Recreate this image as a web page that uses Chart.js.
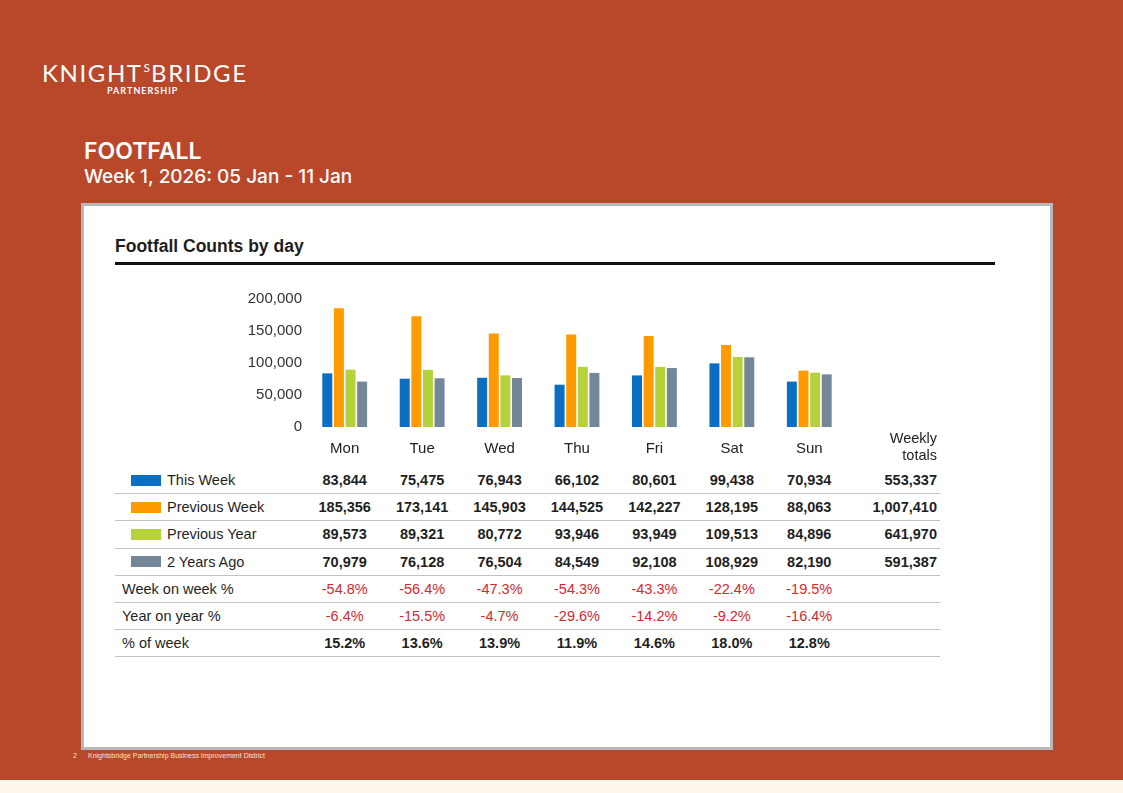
<!DOCTYPE html>
<html>
<head>
<meta charset="utf-8">
<script src="https://cdn.jsdelivr.net/npm/chart.js@4.4.1/dist/chart.umd.min.js"></script>
<style>
  html, body { margin: 0; padding: 0; }
  body { width: 1123px; height: 793px; background: #B9472A; position: relative; overflow: hidden; font-family: "Liberation Sans", Arial, sans-serif; }
  .strip { position: absolute; left: 0; top: 780px; width: 1123px; height: 13px; background: #FDF6EA; }
  .logo { position: absolute; left: 42px; top: 58px; color: #fff; font-family: Lato, sans-serif; font-size: 24px; letter-spacing: 1.6px; white-space: nowrap; }
  .logo sup { font-size: 12px; vertical-align: 10px; letter-spacing: 0; margin: 0 1px; }
  .partner { position: absolute; left: 107px; top: 85px; color: #fff; font-family: Lato, sans-serif; font-weight: 700; font-size: 9px; letter-spacing: 1px; }
  .title { position: absolute; left: 84px; top: 137px; color: #fff; font-family: Inter, sans-serif; font-weight: 600; font-size: 23px; }
  .subtitle { position: absolute; left: 84px; top: 165px; color: #fff; font-family: Inter, sans-serif; font-weight: 500; font-size: 19px; }
  .panel { position: absolute; left: 81px; top: 203px; width: 966px; height: 541px; background: #fff; border: 3px solid #B9B9B9; }
  .ctitle { position: absolute; left: 115px; top: 236px; font-weight: 700; font-size: 17.5px; color: #1d1d1d; }
  .rule { position: absolute; left: 115px; top: 262px; width: 880px; height: 2.5px; background: #111; }
  #wrap { position: absolute; left: 230px; top: 285px; width: 720px; height: 180px; }
  .totalsHead { position: absolute; left: 860px; top: 430px; width: 77px; text-align: right; font-size: 14.5px; line-height: 17px; color: #222; }
  #table { position: absolute; left: 115px; top: 467px; width: 825px; }
  .row { display: flex; height: 27.2px; box-sizing: border-box; border-bottom: 1.6px solid #C2C2C2; align-items: center; font-size: 14.5px; color: #1f1f1f; }
  .lab { width: 191px; display: flex; align-items: center; }
  .sw { width: 30px; height: 11px; margin-left: 16px; margin-right: 6px; }
  .plain { margin-left: 7px; }
  .cell { width: 77.43px; text-align: center; font-weight: 700; }
  .cell.red { color: #CF2A32; font-weight: 400; }
  .tot { width: 89px; text-align: right; font-weight: 700; }
  .foot { position: absolute; top: 752px; color: #F6E3D8; font-size: 7px; }
</style>
</head>
<body>
<div class="strip"></div>
<div class="logo">KNIGHT<sup>S</sup>BRIDGE</div>
<div class="partner">PARTNERSHIP</div>
<div class="title">FOOTFALL</div>
<div class="subtitle">Week 1, 2026: 05 Jan - 11 Jan</div>
<div class="panel"></div>
<div class="ctitle">Footfall Counts by day</div>
<div class="rule"></div>
<div id="wrap"><canvas id="chart"></canvas></div>
<div class="totalsHead">Weekly<br>totals</div>
<div id="table"></div>
<div class="foot" style="left:73px;">2</div>
<div class="foot" style="left:88px;">Knightsbridge Partnership Business Improvement District</div>
<script>
const days = ['Mon', 'Tue', 'Wed', 'Thu', 'Fri', 'Sat', 'Sun'];
const thisWeek = [83844, 75475, 76943, 66102, 80601, 99438, 70934];
const previousWeek = [185356, 173141, 145903, 144525, 142227, 128195, 88063];
const previousYear = [89573, 89321, 80772, 93946, 93949, 109513, 84896];
const twoYearsAgo = [70979, 76128, 76504, 84549, 92108, 108929, 82190];
const weeklyTotals = [553337, 1007410, 641970, 591387];
const weekOnWeek = ['-54.8%', '-56.4%', '-47.3%', '-54.3%', '-43.3%', '-22.4%', '-19.5%'];
const yearOnYear = ['-6.4%', '-15.5%', '-4.7%', '-29.6%', '-14.2%', '-9.2%', '-16.4%'];
const pctOfWeek = ['15.2%', '13.6%', '13.9%', '11.9%', '14.6%', '18.0%', '12.8%'];
const yTicks = [0, 50000, 100000, 150000, 200000];

const seriesNames = ['This Week', 'Previous Week', 'Previous Year', '2 Years Ago'];
const seriesData = [thisWeek, previousWeek, previousYear, twoYearsAgo];
const seriesColors = ['#0A6FC2', '#FF9B00', '#B6D23A', '#748799'];

const fmt = (n) => n.toLocaleString('en-US');

// bar chart
new Chart(document.getElementById('chart'), {
    type: 'bar',
    data: {
        labels: days,
        datasets: seriesNames.map((name, i) => ({
            label: name,
            data: seriesData[i],
            backgroundColor: seriesColors[i],
            categoryPercentage: 0.6,
            barPercentage: 0.86
        }))
    },
    options: {
        responsive: true,
        maintainAspectRatio: false,
        animation: false,
        layout: { padding: { left: 0, right: 102, top: 14, bottom: 0 } },
        plugins: { legend: { display: false }, tooltip: { enabled: false } },
        scales: {
            x: {
                grid: { display: false, drawTicks: false },
                border: { display: false },
                ticks: { color: '#222', padding: 13, font: { family: 'Liberation Sans', size: 15 } },
                afterFit: (scale) => { scale.height = 38; }
            },
            y: {
                min: yTicks[0],
                max: yTicks[yTicks.length - 1],
                afterBuildTicks: (scale) => { scale.ticks = yTicks.map(v => ({ value: v })); },
                grid: { display: false, drawTicks: false },
                border: { display: false },
                ticks: { color: '#333', padding: 4, font: { family: 'Liberation Sans', size: 15 }, callback: (v) => fmt(v) },
                afterFit: (scale) => { scale.width = 76; }
            }
        }
    }
});

// table under the chart
const table = document.getElementById('table');
seriesNames.forEach((name, i) => {
    const row = document.createElement('div');
    row.className = 'row';
    let html = `<div class="lab"><span class="sw" style="background:${seriesColors[i]}"></span>${name}</div>`;
    seriesData[i].forEach(v => { html += `<div class="cell">${fmt(v)}</div>`; });
    html += `<div class="tot">${fmt(weeklyTotals[i])}</div>`;
    row.innerHTML = html;
    table.appendChild(row);
});

[['Week on week %', weekOnWeek, true], ['Year on year %', yearOnYear, true], ['% of week', pctOfWeek, false]].forEach(([name, vals, red]) => {
    const row = document.createElement('div');
    row.className = 'row';
    let html = `<div class="lab"><span class="plain">${name}</span></div>`;
    vals.forEach(v => { html += `<div class="cell${red ? ' red' : ''}">${v}</div>`; });
    html += `<div class="tot"></div>`;
    row.innerHTML = html;
    table.appendChild(row);
});
</script>
</body>
</html>
